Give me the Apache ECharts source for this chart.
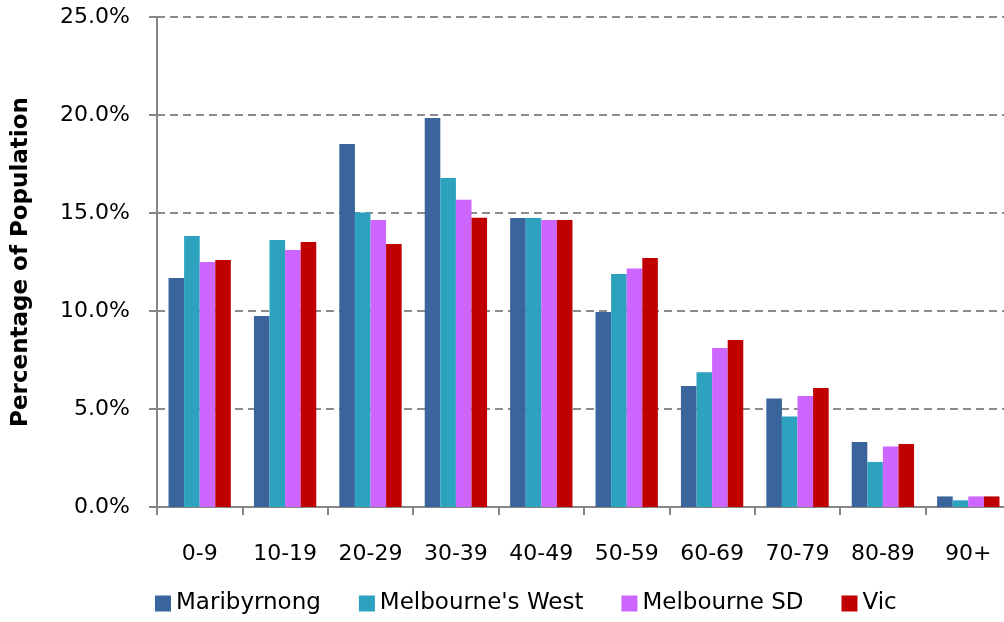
<!DOCTYPE html>
<html lang="en">
<head>
    <meta charset="UTF-8">
    <title>Age distribution</title>
    <style>
        *{ margin:0; padding:0; }
        #box{ width:1004px; height:622px; background:#fff; }
    </style>
    <script src="https://cdn.jsdelivr.net/npm/echarts@6/dist/echarts.min.js"></script>
</head>
<body>
    <div id="box"></div>
    <script>
        // age groups
        var ageGroups = ['0-9', '10-19', '20-29', '30-39', '40-49', '50-59', '60-69', '70-79', '80-89', '90+'];
        // percentage of population
        var maribyrnong = [11.68, 9.74, 18.52, 19.85, 14.74, 9.95, 6.17, 5.54, 3.32, 0.54];
        var melbWest = [13.83, 13.62, 15.03, 16.79, 14.74, 11.89, 6.87, 4.62, 2.30, 0.34];
        var melbSD = [12.50, 13.11, 14.64, 15.68, 14.64, 12.17, 8.11, 5.66, 3.09, 0.54];
        var vic = [12.60, 13.52, 13.42, 14.76, 14.64, 12.70, 8.52, 6.07, 3.21, 0.54];
        var yTicks = [0, 5, 10, 15, 20, 25];

        var myChart = echarts.init(document.getElementById('box'));
        var axisGrey = '#868686';
        var font = 'DejaVu Sans';

        function bar(name, data, color){
            return {
                name: name,
                type: 'bar',
                data: data,
                barGap: '0%',
                barCategoryGap: '27%',
                itemStyle: { color: color }
            };
        }

        var option = {
            animation: false,
            grid: {
                left: 157,
                top: 17,
                width: 854,
                height: 490,
                outerBoundsMode: 'none',
                containLabel: false
            },
            legend: {
                left: 155,
                top: 592,
                padding: 0,
                itemWidth: 16,
                itemHeight: 16,
                itemGap: 38,
                icon: 'rect',
                textStyle: { fontFamily: font, fontSize: 23, color: '#000' },
                data: ['Maribyrnong', "Melbourne's West", 'Melbourne SD', 'Vic']
            },
            xAxis: {
                type: 'category',
                data: ageGroups,
                axisLine: { lineStyle: { color: axisGrey, width: 2 } },
                axisTick: { show: true, length: 8, lineStyle: { color: axisGrey, width: 2 } },
                axisLabel: { margin: 36, fontFamily: font, fontSize: 22, color: '#000' }
            },
            yAxis: {
                type: 'value',
                min: yTicks[0],
                max: yTicks[yTicks.length - 1],
                interval: 5,
                name: 'Percentage of Population',
                nameLocation: 'middle',
                nameGap: 124,
                nameTextStyle: { fontFamily: font, fontWeight: 'bold', fontSize: 23, color: '#000' },
                axisLine: { show: true, lineStyle: { color: axisGrey, width: 2 } },
                axisTick: { show: true, length: 8, lineStyle: { color: axisGrey, width: 2 } },
                axisLabel: {
                    margin: 27,
                    fontFamily: font,
                    fontSize: 22,
                    color: '#000',
                    formatter: function(v){ return v.toFixed(1) + '%'; }
                },
                splitLine: { lineStyle: { color: '#8c8c8c', width: 2, type: [8, 5] } }
            },
            series: [
                bar('Maribyrnong', maribyrnong, '#3A649C'),
                bar("Melbourne's West", melbWest, '#2CA2BF'),
                bar('Melbourne SD', melbSD, '#CC66FF'),
                bar('Vic', vic, '#C00000')
            ]
        };
        myChart.setOption(option);
    </script>
</body>
</html>
